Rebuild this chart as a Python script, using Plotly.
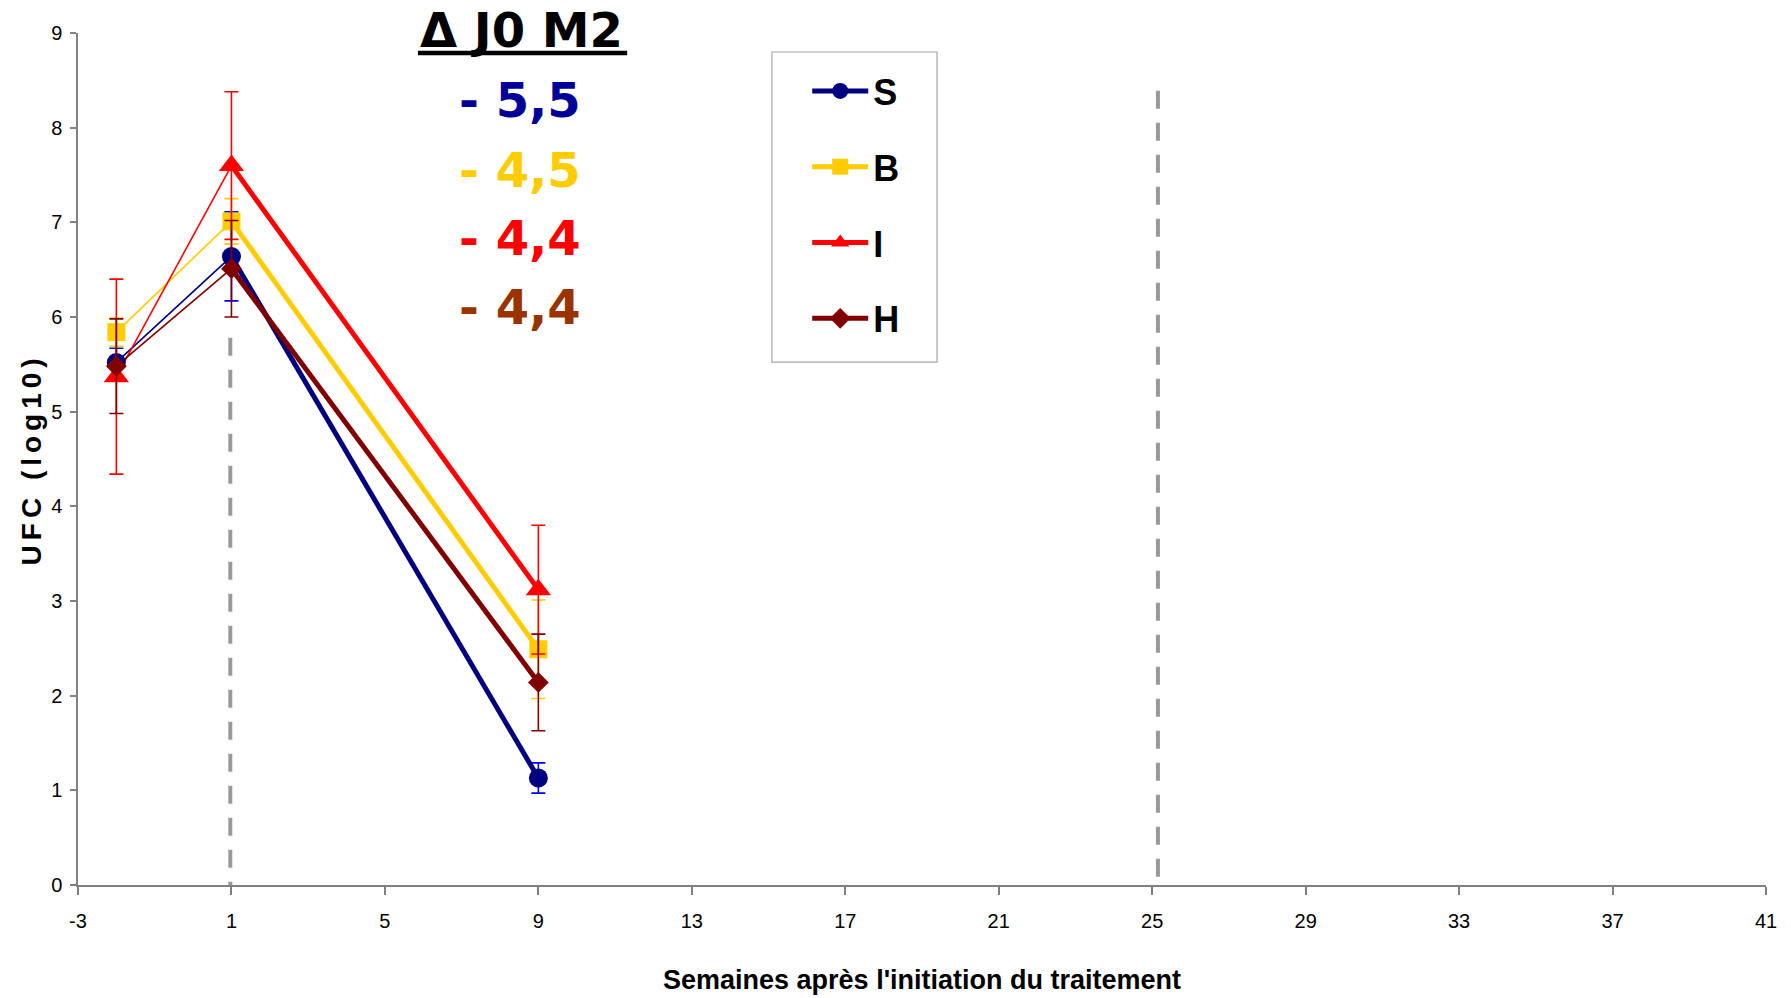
import plotly.graph_objects as go

# ---- data ----
weeks = [-2, 1, 9]
series_names = ["S", "B", "I", "H"]
S_vals = [5.52, 6.64, 1.13]
S_err = [0.15, 0.47, 0.16]
B_vals = [5.84, 7.01, 2.49]
B_err = [0.15, 0.24, 0.52]
I_vals = [5.37, 7.60, 3.12]
I_err = [1.03, 0.78, 0.68]
H_vals = [5.48, 6.51, 2.14]
H_err = [0.50, 0.51, 0.51]
deltas = ["- 5,5", "- 4,5", "- 4,4", "- 4,4"]
delta_title = "Δ J0 M2"
x_ticks = list(range(-3, 42, 4))
y_ticks = list(range(0, 10))
ref_lines = [0.97, 25.15]
ref_tops = [5.78, 8.39]

line_colors = {"S": "#000080", "B": "#FFCC00", "I": "#FF0000", "H": "#800000"}
err_colors = {"S": "#0000FF", "B": "#FFCC00", "I": "#FF0000", "H": "#800000"}
delta_colors = ["#000099", "#FFCC00", "#FF0000", "#993300"]
symbols = {"S": "circle", "B": "square", "I": "triangle-up", "H": "diamond"}
msizes = {"S": 19, "B": 18, "I": 22, "H": 16}
vals = {"S": S_vals, "B": B_vals, "I": I_vals, "H": H_vals}
errs = {"S": S_err, "B": B_err, "I": I_err, "H": H_err}

SANS = "Liberation Sans, Arial, sans-serif"

fig = go.Figure()

# thin baseline segments
for n in series_names:
    fig.add_trace(go.Scatter(
        x=weeks[:2], y=vals[n][:2], mode="lines",
        line=dict(color=line_colors[n], width=1.6),
        showlegend=False, hoverinfo="skip", legendgroup=n))

for n in series_names:
    # thick treatment segment with markers and error bars
    fig.add_trace(go.Scatter(
        x=weeks[1:], y=vals[n][1:], mode="lines+markers", name=n,
        legendgroup=n,
        line=dict(color=line_colors[n], width=5),
        marker=dict(symbol=symbols[n], size=msizes[n], color=line_colors[n]),
        error_y=dict(type="data", array=errs[n][1:], visible=True,
                     color=err_colors[n], thickness=1.6, width=7)))
    # baseline marker
    fig.add_trace(go.Scatter(
        x=weeks[:1], y=vals[n][:1], mode="markers", showlegend=False,
        legendgroup=n,
        marker=dict(symbol=symbols[n], size=msizes[n], color=line_colors[n]),
        error_y=dict(type="data", array=errs[n][:1], visible=True,
                     color=err_colors[n], thickness=1.6, width=7)))

shapes = []
for xv, top in zip(ref_lines, ref_tops):
    shapes.append(dict(type="line", xref="x", yref="y", x0=xv, x1=xv, y0=top, y1=0,
                       line=dict(color="#999999", width=4, dash="18px,14px"), layer="below"))
# legend frame
shapes.append(dict(type="rect", xref="paper", yref="paper",
                   x0=0.4111, x1=0.5089, y0=0.6138, y1=0.9777,
                   line=dict(color="#A6A6A6", width=1.2), fillcolor="rgba(0,0,0,0)"))
# underline of delta title
shapes.append(dict(type="line", xref="paper", yref="paper",
                   x0=0.2014, x1=0.3253, y0=0.9765, y1=0.9765,
                   line=dict(color="black", width=4.5)))

annotations = [
    dict(text="<b>%s</b>" % delta_title, xref="paper", yref="paper", x=0.263, y=1.003,
         xanchor="center", yanchor="middle", showarrow=False,
         font=dict(family="DejaVu Sans", size=48, color="black")),
    dict(text="<b>Semaines après l'initiation du traitement</b>", xref="paper", yref="paper",
         x=0.5, y=-0.1115, xanchor="center", yanchor="middle", showarrow=False,
         font=dict(family=SANS, size=27, color="black")),
    dict(text="<b><span style='letter-spacing:5px'>UFC (log10)</span></b>", xref="paper", yref="paper",
         x=-0.0276, y=0.5, xanchor="center", yanchor="middle", showarrow=False, textangle=-90,
         font=dict(family=SANS, size=28, color="black")),
]
delta_y = [0.9214, 0.8392, 0.7594, 0.6784]
for t, c, yy in zip(deltas, delta_colors, delta_y):
    annotations.append(dict(text="<b>%s</b>" % t, xref="paper", yref="paper", x=0.2992, y=yy,
                            xanchor="right", yanchor="middle", showarrow=False,
                            font=dict(family="DejaVu Sans", size=48, color=c)))

fig.update_layout(
    width=1791, height=998,
    margin=dict(l=78, r=25, t=33, b=113),
    paper_bgcolor="white", plot_bgcolor="white",
    shapes=shapes, annotations=annotations,
    showlegend=True,
    legend=dict(x=0.432, y=0.9671, xanchor="left", yanchor="top",
                bgcolor="rgba(0,0,0,0)", borderwidth=0,
                font=dict(family=SANS, size=36, color="black", weight="bold"),
                tracegroupgap=26, itemwidth=56, traceorder="grouped"),
    xaxis=dict(range=[-3, 41], tickmode="array", tickvals=x_ticks,
               ticktext=[str(v) for v in x_ticks],
               showgrid=False, zeroline=False, showline=True, linecolor="#808080", linewidth=2,
               ticks="outside", ticklen=8, tickcolor="#808080", tickwidth=1.5,
               tickfont=dict(family=SANS, size=20, color="black"), ticklabelstandoff=9),
    yaxis=dict(range=[0, 9], tickmode="array", tickvals=y_ticks,
               showgrid=False, zeroline=False, showline=True, linecolor="#808080", linewidth=1.5,
               ticks="outside", ticklen=6, tickcolor="#808080", tickwidth=1.5,
               tickfont=dict(family=SANS, size=20, color="black"), ticklabelstandoff=4),
)

fig.write_html("out.html", config={"displayModeBar": False},
               post_script="document.body.style.margin='0px';")
